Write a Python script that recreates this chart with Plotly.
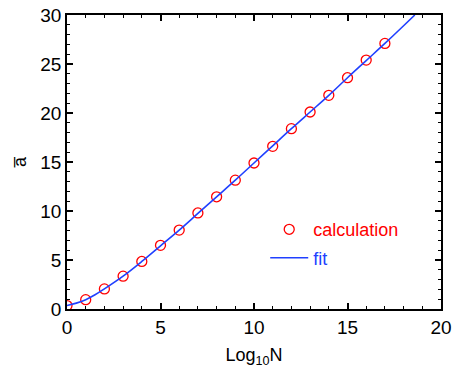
import plotly.graph_objects as go

# valores
log_n = [0, 1, 2, 3, 4, 5, 6, 7, 8, 9, 10, 11, 12, 13, 14, 15, 16, 17]
a_calc = [0.35, 0.95, 2.05, 3.35, 4.85, 6.5, 8.05, 9.8, 11.45, 13.15, 14.9,
          16.6, 18.4, 20.1, 21.8, 23.6, 25.4, 27.1]

x_fit = [0, 0.5, 1, 1.5, 2, 3, 4, 5, 6, 7, 8, 9, 10, 11, 12, 13, 14, 15,
         16, 17, 18, 18.6]
a_fit = [0.35, 0.6, 0.95, 1.45, 2.05, 3.35, 4.85, 6.45, 8.05, 9.75, 11.45,
         13.15, 14.9, 16.65, 18.4, 20.1, 21.8, 23.6, 25.35, 27.1, 28.9, 30.0]

x_ticks = [0, 5, 10, 15, 20]
y_ticks = [0, 5, 10, 15, 20, 25, 30]

fig = go.Figure()

fig.add_trace(go.Scatter(
    x=log_n,
    y=a_calc,
    mode='markers',
    name="<span style='color:#ff0000'>calculation</span>",
    legendgroup="calc",
    marker=dict(symbol='circle-open', size=10, color='#ff0000',
                line=dict(width=1.3, color='#ff0000'))
))

fig.add_trace(go.Scatter(
    x=x_fit,
    y=a_fit,
    mode='lines',
    name="<span style='color:#2040ff'>fit</span>",
    legendgroup="fit",
    line=dict(color='#2040ff', width=1.6, shape='spline')
))

# ejes con marcas hacia adentro en los cuatro lados
eje = dict(
    showgrid=False, zeroline=False, showline=True, linecolor='black',
    linewidth=1.5, mirror='ticks', ticks='inside', ticklen=6, tickwidth=1.5,
    tickcolor='black', tickfont=dict(size=19, color='black'),
    automargin=False, ticklabeloverflow='allow',
    minor=dict(ticks='inside', ticklen=3, tickwidth=1, tickcolor='black',
               dtick=1),
)

fig.update_xaxes(eje, range=[0, 20], tickvals=x_ticks,
                 title=dict(text="Log<sub>10</sub>N", standoff=12,
                            font=dict(size=18, color='black')))
fig.update_yaxes(eje, range=[0, 30], tickvals=y_ticks,
                 title=dict(text="a\u0305", standoff=9,
                            font=dict(size=18, color='black')))

fig.update_layout(
    width=457,
    height=377,
    template='plotly_white',
    plot_bgcolor='white',
    paper_bgcolor='white',
    font=dict(family="Liberation Sans, Arial", size=18, color='black'),
    margin=dict(l=67, r=16, t=15, b=68),
    legend=dict(x=0.53, y=0.333, xanchor='left', yanchor='top',
                bgcolor='rgba(0,0,0,0)', font=dict(size=18), itemwidth=38,
                traceorder='grouped', tracegroupgap=2),
)

# sin el margen de 8px del body para que la figura quede en (0, 0)
fig.write_html("out.html", config={'displayModeBar': False},
               post_script="document.body.style.margin='0';")
